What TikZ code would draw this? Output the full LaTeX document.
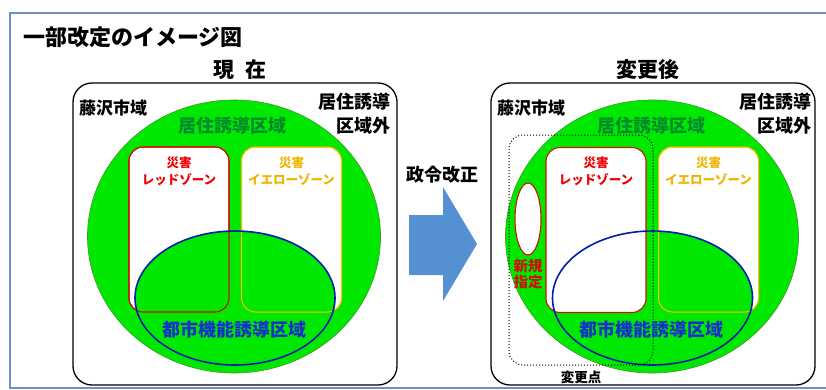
\documentclass[tikz,border=0pt]{standalone}
\usepackage{fontspec}
\setmainfont{Noto Sans CJK JP}
\usetikzlibrary{shapes.geometric,positioning}

\definecolor{framecol}{RGB}{111,143,200}
\definecolor{zonegreen}{RGB}{0,232,0}
\definecolor{zoneedge}{RGB}{60,150,40}
\definecolor{residtext}{RGB}{0,140,45}
\definecolor{redline}{RGB}{200,20,0}
\definecolor{redtext}{RGB}{240,0,0}
\definecolor{yelline}{RGB}{255,190,0}
\definecolor{yeltext}{RGB}{240,180,0}
\definecolor{urbline}{RGB}{0,30,170}
\definecolor{urbtext}{RGB}{20,50,200}
\definecolor{arrowblue}{RGB}{85,145,210}

\begin{document}
\begin{tikzpicture}[x=1pt,y=-1pt,inner sep=0pt,outer sep=0pt,node font=\bfseries]
	\tikzstyle{city}=[rectangle,rounded corners=19pt,draw=black,line width=1.3pt,fill=white,minimum width=324pt,minimum height=302pt]
	\tikzstyle{resid}=[ellipse,fill=zonegreen,draw=zoneedge,line width=0.6pt,minimum width=293pt,minimum height=273pt]
	\tikzstyle{zone}=[rectangle,rounded corners=14pt,fill=white,minimum width=100pt,minimum height=165pt]
	\tikzstyle{urb}=[ellipse,minimum width=200pt,minimum height=134pt]
	\tikzstyle{label}=[align=center,font=\fontsize{18}{24}\selectfont]
	\tikzstyle{small}=[align=center,font=\fontsize{12.5}{17}\selectfont]
	
	\useasboundingbox (0,0) rectangle (826,389);
	\fill[white] (0,0) rectangle (826,389);
	\draw[framecol,line width=1.5pt] (10,13) rectangle (840,388);
	
	\node[anchor=west,font=\fontsize{22}{26}\selectfont] (TITLE) at (23,37) {一部改定のイメージ図};
	\node[font=\fontsize{21}{26}\selectfont] (NOW)   at (240,70) {現\hspace{0.5em}在};
	\node[font=\fontsize{21}{26}\selectfont] (AFTER) at (648,70) {変更後};
	
	% current
	\node[city]  (CL) at (235,234) {};
	\node[resid] (GL) at (234,236.5) {};
	\node[zone,draw=redline,line width=1.1pt]  (RL) at (179,229.5) {};
	\node[zone,draw=yelline,line width=1pt]    (YL) at (291.5,229.5) {};
	\node[urb,fill=zonegreen] (UL) at (235,298) {};
	\draw[redline,line width=1.1pt,rounded corners=14pt] (RL.south west) rectangle (RL.north east);
	\draw[yelline,line width=1pt,rounded corners=14pt] (YL.south west) rectangle (YL.north east);
	\node[urb,draw=urbline,line width=1.6pt] at (UL) {};
	
	\node[label,anchor=west,font=\fontsize{17}{22}\selectfont] (FJL) at (79,108) {藤沢市域};
	\node[label,anchor=east,align=right] (OUTL) at (390,114) {居住誘導\\区域外};
	\node[label,text=residtext] (RESL) at (232,126) {居住誘導区域};
	\node[small,text=redtext] (RTL) at (179,171.5) {災害\\レッドゾーン};
	\node[small,text=yeltext] (YTL) at (291.5,171.5) {災害\\イエローゾーン};
	\node[label,text=urbtext] (UTL) at (234,330) {都市機能誘導区域};
	
	% arrow
	\fill[arrowblue] (409,215) -- (443,215) -- (443,187) -- (477,244) -- (443,301) -- (443,275) -- (409,275) -- cycle;
	\node[label] (POL) at (442,175) {政令改正};
	
	% after
	\node[city]  (CR) at (653,234) {};
	\node[resid] (GR) at (652,236.5) {};
	\node[zone,draw=yelline,line width=1pt]    (YR) at (708.5,229.5) {};
	\node[urb,fill=zonegreen] (UR) at (652.5,298) {};
	\draw[yelline,line width=1pt,rounded corners=14pt] (YR.south west) rectangle (YR.north east);
	\node[zone,draw=redline,line width=1.1pt]  (RR) at (596,230) {};
	\node[ellipse,fill=white,draw=redline,line width=1.1pt,minimum width=26pt,minimum height=72pt] (NEW) at (528,219) {};
	\node[urb,draw=urbline,line width=1.6pt] at (UR) {};
	\node[rectangle,rounded corners=14pt,draw=black,dotted,line width=1pt,minimum width=144pt,minimum height=230pt] (CHG) at (581,250) {};
	
	\node[label,anchor=west,font=\fontsize{17}{22}\selectfont] (FJR) at (497,108) {藤沢市域};
	\node[label,anchor=east,align=right] (OUTR) at (811,114) {居住誘導\\区域外};
	\node[label,text=residtext] (RESR) at (651,126) {居住誘導区域};
	\node[small,text=redtext] (RTR) at (596,171.5) {災害\\レッドゾーン};
	\node[small,text=yeltext] (YTR) at (708.5,171.5) {災害\\イエローゾーン};
	\node[label,text=urbtext] (UTR) at (651,330) {都市機能誘導区域};
	\node[align=center,text=redline,font=\fontsize{14.5}{16}\selectfont] (NEWT) at (528,274) {新規\\指定};
	\node[font=\fontsize{13.5}{16}\selectfont] (CHGT) [below=6pt of CHG] {変更点};
\end{tikzpicture}
\end{document}
